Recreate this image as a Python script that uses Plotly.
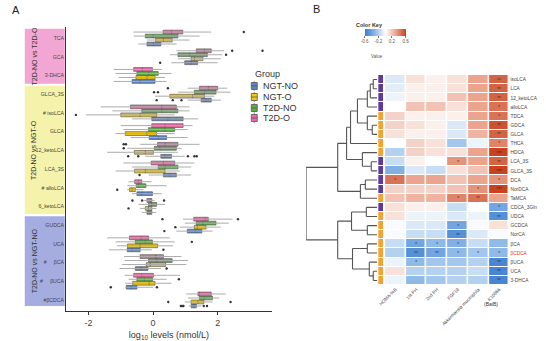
import plotly.graph_objects as go

W, H = 546, 341
FONT = "Liberation Sans, Arial, sans-serif"

# ---------------- Panel A: bile acid levels by group ----------------
metabolites = ["TCA", "GCA", "3-DHCA", "GLCA_3S", "# isoLCA", "GLCA", "12_ketoLCA",
               "LCA_3S", "# alloLCA", "6_ketoLCA", "GUDCA", "UCA",
               "#\u00a0\u00a0\u00a0\u00a0\u00a0βCA", "#\u00a0\u00a0\u00a0\u00a0\u00a0βUCA", "#βCDCA"]
groups = ["NGT-NO", "NGT-O", "T2D-NO", "T2D-O"]
group_colors = ["#5b84c4", "#f2c80f", "#5aae48", "#ea6aa6"]
group_offsets = [0.32, 0.107, -0.107, -0.32]

# q1, median, q3, lower whisker, upper whisker (log10 nmol/L)
ngt_no_q1 = [-0.19, 0.98, -0.65, 1.49, -0.04, -0.12, 0.24, 0.32, -0.50, -0.19, 1.06, -0.80, -0.55, -0.83, 1.18]
ngt_no_med = [0.01, 1.18, -0.40, 1.64, 0.46, 0.16, 0.37, 0.52, -0.35, -0.10, 1.31, -0.65, -0.37, -0.68, 1.26]
ngt_no_q3 = [0.24, 1.38, 0.06, 1.80, 0.93, 0.42, 0.57, 0.72, -0.02, -0.04, 1.51, -0.40, -0.16, -0.50, 1.34]
ngt_no_lo = [-0.46, 0.57, -1.22, 1.07, -0.65, -0.70, -0.24, -0.14, -0.65, -0.35, 0.72, -1.37, -1.04, -0.86, 1.10]
ngt_no_hi = [0.73, 2.00, 0.42, 2.10, 1.40, 1.07, 0.98, 1.18, 0.27, 0.10, 1.84, -0.04, 0.25, 0.00, 1.50]

ngt_o_q1 = [0.08, 1.18, -0.53, 0.52, -1.00, -0.86, -0.58, -0.57, -0.73, -0.24, 1.28, -0.79, -0.21, -0.63, 1.18]
ngt_o_med = [0.32, 1.28, -0.19, 1.22, -0.40, -0.19, -0.24, -0.24, -0.65, -0.14, 1.37, -0.40, -0.09, -0.12, 1.39]
ngt_o_q3 = [0.59, 1.54, 0.06, 1.59, 0.11, 0.11, 0.01, 0.37, -0.55, -0.04, 1.64, 0.14, 0.39, 0.06, 1.57]
ngt_o_lo = [-0.19, 0.77, -1.07, 0.06, -2.08, -1.16, -1.42, -1.16, -0.80, -0.40, 0.83, -1.11, -0.96, -0.86, 0.98]
ngt_o_hi = [1.13, 2.10, 0.37, 1.90, 0.67, 0.67, 0.77, 0.83, -0.30, 0.10, 2.10, 0.62, 1.03, 0.57, 1.84]

t2d_no_q1 = [-0.24, 0.77, -0.50, 1.28, -0.35, -0.14, 0.04, 0.16, -0.52, -0.14, 1.34, -0.55, -0.14, -0.50, 1.44]
t2d_no_med = [0.00, 1.13, -0.14, 1.59, 0.27, 0.37, 0.21, 0.37, -0.45, -0.04, 1.54, -0.24, 0.11, -0.27, 1.59]
t2d_no_q3 = [0.77, 1.68, 0.16, 1.95, 0.77, 0.67, 0.72, 0.77, -0.22, 0.11, 1.95, -0.02, 0.59, -0.02, 1.84]
t2d_no_lo = [-0.60, 0.52, -1.16, 0.77, -1.26, -0.92, -0.80, -0.65, -0.80, -0.45, 0.98, -1.16, -0.88, -0.76, 1.08]
t2d_no_hi = [1.44, 2.14, 0.57, 2.40, 1.13, 1.07, 0.88, 1.18, 0.42, 0.37, 2.35, 0.67, 1.08, 0.42, 2.05]

t2d_o_q1 = [0.31, 1.34, -0.60, 1.44, -0.70, -0.04, 0.14, -0.06, -0.57, -0.19, 1.26, -0.73, -0.40, -0.60, 1.39]
t2d_o_med = [0.57, 1.59, -0.33, 1.71, 0.27, 0.37, 0.37, 0.32, -0.45, -0.09, 1.61, -0.37, 0.08, -0.35, 1.44]
t2d_o_q3 = [0.92, 1.80, -0.02, 2.00, 0.72, 0.93, 0.77, 0.67, -0.35, -0.04, 1.71, -0.14, 0.32, 0.01, 1.80]
t2d_o_lo = [-0.61, 0.72, -1.22, 1.07, -1.62, -1.00, -0.40, -0.92, -0.76, -0.30, 0.93, -1.42, -0.90, -0.88, 1.03]
t2d_o_hi = [1.80, 2.20, 0.27, 2.30, 1.13, 1.22, 1.44, 1.28, -0.04, 0.05, 2.46, 0.52, 0.88, 0.83, 2.25]

# outlying observations: (metabolite index, value)
ngt_no_out = [(1, 0.22), (3, 0.11), (3, 0.61), (3, 0.88), (6, -0.77), (6, -0.46), (6, 1.08),
              (6, 1.28), (6, 1.35), (7, -0.42), (10, 0.35), (11, 0.32), (12, 0.42),
              (13, -1.31), (13, 0.12), (14, 0.86), (14, 0.90), (14, 0.94), (14, 1.57), (14, 1.67)]
ngt_o_out = [(4, -2.39), (8, -1.11), (9, -0.76), (10, 0.69), (14, 0.47), (14, 2.40)]
t2d_no_out = [(1, 2.26), (3, 0.03), (3, 0.15), (6, -0.91), (11, 1.20), (13, 0.80)]
t2d_o_out = [(0, 2.81), (1, 2.45), (1, 3.39), (3, 0.46), (6, -0.91), (6, -0.84),
             (9, -0.64), (9, -0.34), (9, 0.34), (10, 0.29), (10, 2.63)]

box_stats = [
    (ngt_no_q1, ngt_no_med, ngt_no_q3, ngt_no_lo, ngt_no_hi, ngt_no_out),
    (ngt_o_q1, ngt_o_med, ngt_o_q3, ngt_o_lo, ngt_o_hi, ngt_o_out),
    (t2d_no_q1, t2d_no_med, t2d_no_q3, t2d_no_lo, t2d_no_hi, t2d_no_out),
    (t2d_o_q1, t2d_o_med, t2d_o_q3, t2d_o_lo, t2d_o_hi, t2d_o_out),
]

comparisons = ["T2D-NO vs T2D-O", "T2D-NO vs NGT-O", "T2D-NO vs NGT-NO"]
comparison_rows = [(-0.5, 2.45), (2.55, 9.4), (9.52, 14.32)]
comparison_colors = ["#f2a6d4", "#f5f2ab", "#a4ace0"]

# ---------------- Panel B: correlation heatmap ----------------
hm_rows = ["isoLCA", "LCA", "12_ketoLCA", "alloLCA", "TDCA", "GDCA", "GLCA", "THCA", "HDCA",
           "LCA_3S", "GLCA_3S", "DCA", "NorDCA", "TaMCA", "CDCA_3Gln", "UDCA", "GCDCA", "NorCA",
           "βCA", "βCDCA", "βUCA", "UCA", "3-DHCA"]
hm_cols = ["HOMA-%B", "1st PH", "2nd PH", "FGF19", "Akkermansia muciniphila", "K10866"]
hm_values = [
    [-0.10, 0.10, 0.05, 0.10, 0.30, 0.50],
    [-0.08, 0.05, 0.05, 0.10, 0.30, 0.50],
    [-0.05, 0.05, 0.05, 0.20, 0.30, 0.50],
    [0.00, 0.20, 0.20, 0.10, 0.30, 0.45],
    [0.15, 0.05, 0.05, 0.05, 0.30, 0.45],
    [0.15, 0.10, 0.05, -0.10, 0.30, 0.55],
    [0.10, 0.05, 0.05, -0.10, 0.25, 0.50],
    [0.00, 0.15, 0.10, -0.25, -0.05, 0.40],
    [-0.20, 0.15, 0.10, 0.10, 0.30, 0.62],
    [-0.15, 0.05, 0.00, 0.35, 0.30, 0.50],
    [-0.35, -0.10, -0.15, 0.10, 0.20, 0.62],
    [0.45, 0.30, 0.30, 0.20, 0.30, 0.35],
    [0.15, 0.15, 0.15, 0.20, 0.35, 0.60],
    [0.20, 0.25, 0.25, 0.40, 0.45, 0.30],
    [0.10, 0.05, 0.05, -0.15, 0.00, -0.40],
    [0.10, -0.05, -0.05, -0.10, -0.05, -0.50],
    [-0.02, -0.10, -0.10, -0.40, -0.02, 0.10],
    [-0.02, -0.15, -0.15, -0.50, -0.10, -0.02],
    [-0.15, -0.40, -0.30, -0.35, -0.15, -0.30],
    [-0.20, -0.50, -0.40, -0.30, -0.25, -0.30],
    [-0.05, -0.30, -0.25, -0.25, -0.20, -0.55],
    [0.10, -0.20, -0.20, -0.20, -0.15, -0.55],
    [-0.05, -0.30, -0.25, -0.20, -0.20, -0.55],
]
hm_signif = [
    ["", "", "", "", "", "**"],
    ["", "", "", "", "", "**"],
    ["", "", "", "", "", "**"],
    ["", "", "", "", "", "*"],
    ["", "", "", "", "", "*"],
    ["", "", "", "", "", "**"],
    ["", "", "", "", "", "**"],
    ["", "", "", "", "", "*"],
    ["", "", "", "", "", "***"],
    ["", "", "", "*", "", "**"],
    ["", "", "", "", "", "***"],
    ["*", "", "", "", "", "*"],
    ["", "", "", "", "*", "***"],
    ["", "", "", "*", "**", ""],
    ["", "", "", "", "", "*"],
    ["", "", "", "", "", "**"],
    ["", "", "", "*", "", ""],
    ["", "", "", "**", "", ""],
    ["", "*", "*", "*", "", ""],
    ["", "**", "**", "*", "*", "*"],
    ["", "*", "", "", "", "**"],
    ["", "", "", "", "", "**"],
    ["", "", "", "", "", "**"],
]
# bile acid class of each row: 0 = purple class, 1 = orange class
row_class = [0, 0, 0, 0, 1, 1, 1, 1, 1, 0, 0, 0, 0, 1, 0, 1, 1, 1, 1, 1, 1, 1, 1]
class_colors = ["#5c3a9e", "#f4a230"]

# hierarchical clustering of rows: (child a, child b, merge height); new node ids start at 23
row_linkage = [
    (0, 1, 4), (23, 2, 7), (24, 3, 10), (5, 6, 5), (4, 26, 10), (25, 27, 20), (28, 7, 27),
    (9, 10, 6), (8, 30, 15), (29, 31, 31), (11, 12, 12), (33, 13, 17), (32, 34, 40),
    (14, 15, 11), (16, 17, 10), (36, 37, 26), (18, 19, 10), (21, 22, 4), (20, 40, 8),
    (39, 41, 25), (38, 42, 40), (35, 43, 72),
]

fig = go.Figure()

# --- Panel A traces ---
for gi, (q1, med, q3, lo, hi, outs) in enumerate(box_stats):
    pos = [i + group_offsets[gi] for i in range(len(metabolites))]
    wx, wy = [], []
    for p, a, b in zip(pos, lo, hi):
        wx += [a, b, None]
        wy += [p, p, None]
    fig.add_trace(go.Scatter(x=wx, y=wy, mode="lines", line=dict(color="#ababab", width=1.0),
                             hoverinfo="skip", showlegend=False, xaxis="x", yaxis="y"))
for gi, (q1, med, q3, lo, hi, outs) in enumerate(box_stats):
    pos = [i + group_offsets[gi] for i in range(len(metabolites))]
    fig.add_trace(go.Box(y=pos, q1=q1, median=med, q3=q3, lowerfence=q1, upperfence=q3,
                         orientation="h", width=0.2, fillcolor=group_colors[gi],
                         line=dict(color="#5a5a5a", width=0.7), whiskerwidth=0,
                         boxpoints=False, name=groups[gi], showlegend=False,
                         xaxis="x", yaxis="y"))
for gi, (q1, med, q3, lo, hi, outs) in enumerate(box_stats):
    fig.add_trace(go.Scatter(x=[v for _, v in outs], y=[r + group_offsets[gi] for r, _ in outs],
                             mode="markers", marker=dict(color="#333333", size=2.4),
                             hoverinfo="skip", showlegend=False, xaxis="x", yaxis="y"))

# --- Panel B traces ---
n_rows = len(hm_rows)
fig.add_trace(go.Heatmap(
    z=hm_values, x=list(range(len(hm_cols))), y=list(range(n_rows)),
    text=hm_signif, texttemplate="%{text}", textfont=dict(size=4.5, color="#3a2a2a"),
    zmin=-0.6, zmax=0.6, xgap=1.5, ygap=1,
    colorscale=[[0.0, "#3a7bcf"], [0.25, "#8fbae8"], [0.5, "#ffffff"],
                [0.75, "#eba48e"], [1.0, "#c8421f"]],
    colorbar=dict(orientation="h", x=383 / W, xanchor="center", y=1 - 29 / H,
                  yanchor="top", len=41, lenmode="pixels", thickness=7,
                  thicknessmode="pixels", outlinewidth=0, xpad=0, ypad=0,
                  tickvals=[-0.6, -0.2, 0.2, 0.6], ticktext=["-0.6", "-0.2", "0.2", "0.6"],
                  ticks="outside", ticklen=2, tickwidth=0.6, tickcolor="#777",
                  tickfont=dict(size=4.5, color="#555", family=FONT)),
    hoverinfo="skip", xaxis="x2", yaxis="y2"))

fig.add_trace(go.Heatmap(
    z=[[c] for c in row_class], x=[0], y=list(range(n_rows)), ygap=1,
    zmin=0, zmax=1, colorscale=[[0, class_colors[0]], [1, class_colors[1]]],
    showscale=False, hoverinfo="skip", xaxis="x3", yaxis="y2"))

# dendrogram segments computed from the linkage table
node_y = {i: float(i) for i in range(n_rows)}
node_h = {i: 0.0 for i in range(n_rows)}
dx, dy = [], []
for k, (a, b, h) in enumerate(row_linkage):
    nid = n_rows + k
    for c in (a, b):
        dx += [node_h[c], h, None]
        dy += [node_y[c], node_y[c], None]
    dx += [h, h, None]
    dy += [node_y[a], node_y[b], None]
    node_y[nid] = (node_y[a] + node_y[b]) / 2
    node_h[nid] = h
root_h = row_linkage[-1][2]
fig.add_trace(go.Scatter(x=dx, y=dy, mode="lines", line=dict(color="#555555", width=1.1),
                         hoverinfo="skip", showlegend=False, xaxis="x4", yaxis="y2"))

# --- background strips for the comparisons ---
shapes = []
annotations = []
for name, (r0, r1), col in zip(comparisons, comparison_rows, comparison_colors):
    shapes.append(dict(type="rect", xref="paper", yref="y", x0=18 / W, x1=58.5 / W,
                       y0=r0, y1=r1, fillcolor=col, line=dict(width=0), layer="below"))
    annotations.append(dict(text=name, xref="paper", yref="y", x=22 / W, y=(r0 + r1) / 2,
                            textangle=-90, showarrow=False,
                            font=dict(size=7, color="#333", family=FONT)))

# --- group legend ---
legend_y = [86, 97, 108, 118]
annotations.append(dict(text="Group", xref="paper", yref="paper", x=249 / W, y=1 - 74 / H,
                        xanchor="left", yanchor="middle", showarrow=False,
                        font=dict(size=9, color="#333", family=FONT)))
for g, col, ly in zip(groups, group_colors, legend_y):
    shapes.append(dict(type="line", xref="paper", yref="paper", x0=250.5 / W, x1=250.5 / W,
                       y0=1 - (ly - 5) / H, y1=1 - (ly + 5) / H,
                       line=dict(color="#999", width=1)))
    shapes.append(dict(type="rect", xref="paper", yref="paper", x0=247.5 / W, x1=253.5 / W,
                       y0=1 - (ly - 3.5) / H, y1=1 - (ly + 3.5) / H, fillcolor=col,
                       line=dict(color="#555", width=0.8)))
    shapes.append(dict(type="line", xref="paper", yref="paper", x0=247.5 / W, x1=253.5 / W,
                       y0=1 - ly / H, y1=1 - ly / H, line=dict(color="#555", width=0.8)))
    annotations.append(dict(text=g, xref="paper", yref="paper", x=257 / W, y=1 - ly / H,
                            xanchor="left", yanchor="middle", showarrow=False,
                            font=dict(size=9, color="#333", family=FONT)))

# panel letters and extra labels
annotations += [
    dict(text="A", xref="paper", yref="paper", x=3 / W, y=1 - 10 / H, xanchor="left",
         yanchor="middle", showarrow=False, font=dict(size=11, color="#222", family=FONT)),
    dict(text="B", xref="paper", yref="paper", x=308 / W, y=1 - 9 / H, xanchor="left",
         yanchor="middle", showarrow=False, font=dict(size=11, color="#222", family=FONT)),
    dict(text="<b>Color Key</b>", xref="paper", yref="paper", x=383 / W, y=1 - 20 / H,
         showarrow=False, font=dict(size=5.5, color="#333", family=FONT)),
    dict(text="Value", xref="paper", yref="paper", x=383 / W, y=1 - 52 / H,
         showarrow=False, font=dict(size=4.5, color="#555", family=FONT)),
    dict(text="(BaiB)", xref="paper", yref="paper", x=499 / W, y=1 - 309 / H,
         showarrow=False, font=dict(size=5, color="#333", family=FONT)),
]

hm_ticktext = [f"<span style='color:#e8322a'>{r}</span>" if r == "βCDCA" else r for r in hm_rows]

fig.update_layout(
    width=W, height=H, margin=dict(l=0, r=0, t=0, b=0),
    paper_bgcolor="white", plot_bgcolor="white", showlegend=False,
    font=dict(family=FONT, color="#333"),
    boxmode="overlay",
    shapes=shapes, annotations=annotations,
    xaxis=dict(domain=[60 / W, 268 / W], anchor="y", range=[-2.69, 3.67],
               tickvals=[-2, 0, 2], ticktext=["-2", "0", "2"], ticks="outside", ticklen=3,
               tickcolor="#333", tickfont=dict(size=9, color="#444"),
               showline=True, linecolor="#333", linewidth=1.2, showgrid=False, zeroline=False,
               title=dict(text="log<sub>10</sub> levels (nmol/L)", standoff=4,
                          font=dict(size=9, color="#333"))),
    yaxis=dict(domain=[1 - 311 / H, 1 - 27 / H], anchor="x", range=[14.59, -0.59],
               tickvals=list(range(len(metabolites))), ticktext=metabolites, ticks="",
               tickfont=dict(size=5.2, color="#444"), showline=True, linecolor="#333",
               linewidth=1.2, showgrid=False, zeroline=False),
    xaxis2=dict(domain=[383 / W, 509 / W], anchor="y2", range=[-0.5, 5.5],
                tickvals=list(range(len(hm_cols))), ticktext=hm_cols, tickangle=-45,
                ticks="", tickfont=dict(size=4.6, color="#444"), showgrid=False,
                zeroline=False, showline=False),
    yaxis2=dict(domain=[1 - 285 / H, 1 - 75 / H], anchor="x2", range=[n_rows - 0.5, -0.5],
                side="right", tickvals=list(range(n_rows)), ticktext=hm_ticktext, ticks="",
                tickfont=dict(size=4.8, color="#444"), showgrid=False, zeroline=False,
                showline=False),
    xaxis3=dict(domain=[376 / W, 381 / W], anchor="y2", range=[-0.5, 0.5], visible=False),
    xaxis4=dict(domain=[303 / W, 375 / W], anchor="y2", range=[root_h, 0], visible=False),
)

fig.write_html("out.html")
